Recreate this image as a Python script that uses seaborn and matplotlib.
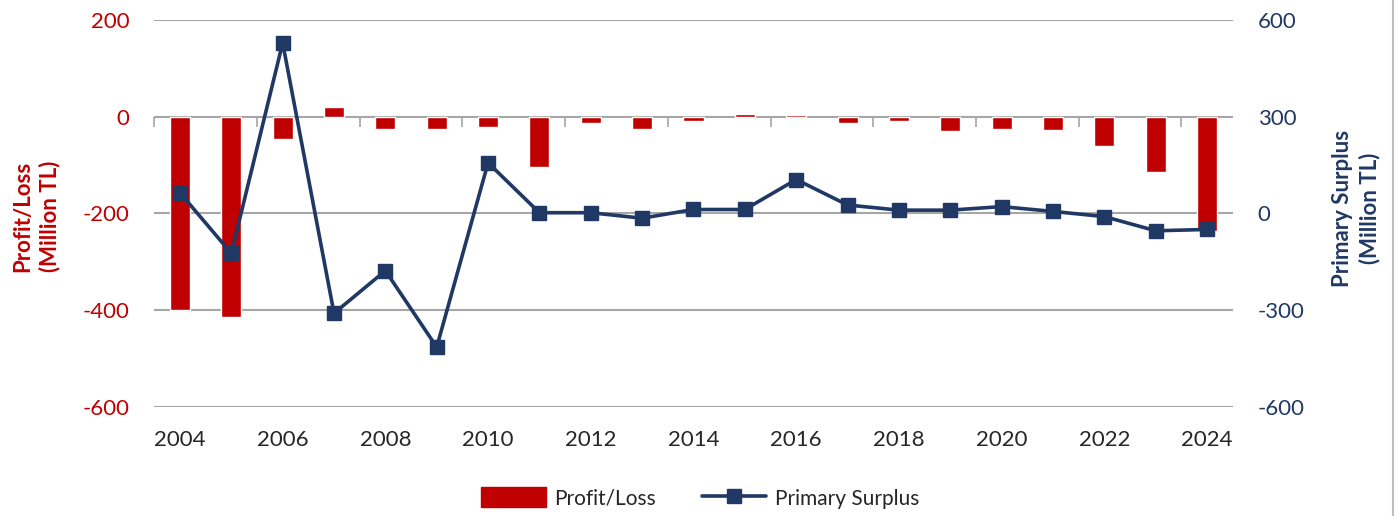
import numpy as np
import pandas as pd
import matplotlib
matplotlib.use("Agg")
import matplotlib.pyplot as plt
import seaborn as sns
from matplotlib.patches import Patch
from matplotlib.lines import Line2D

# values
years = [2004, 2005, 2006, 2007, 2008, 2009, 2010, 2011, 2012, 2013, 2014,
         2015, 2016, 2017, 2018, 2019, 2020, 2021, 2022, 2023, 2024]
profit_loss = [-399, -414, -46, 20, -25, -25, -22, -105, -14, -25, -9,
               6, 3, -14, -9, -30, -25, -28, -61, -115, -237]
primary_surplus = [64, -124, 529, -310, -178, -415, 157, 2, 2, -15, 12,
                   12, 105, 26, 10, 10, 21, 6, -10, -54, -50]
left_ticks = [200, 0, -200, -400, -600]
right_ticks = [600, 300, 0, -300, -600]

RED = "#C00000"
NAVY = "#203864"
GRID = "#A6A6A6"

sns.set_theme(style="white")
plt.rcParams['font.family'] = ['Lato', 'DejaVu Sans']
plt.rcParams['axes.unicode_minus'] = False

df = pd.DataFrame({"year": [str(y) for y in years],
                   "profit": profit_loss,
                   "surplus": primary_surplus})

fig = plt.figure(figsize=(14, 5.16), dpi=100)
ax = fig.add_axes([0.1102, 0.2118, 0.7703, 0.7494])

# bars on the left axis
sns.barplot(data=df, x="year", y="profit", color=RED, width=0.39,
            saturation=1, ax=ax, zorder=2)
ax.set_ylim(-600, 200)
ax.set_yticks(left_ticks)
ax.set_xlim(-0.5, len(years) - 0.5)
ax.grid(axis="y", color=GRID, linewidth=1.5)
ax.set_axisbelow(True)
ax.set_xlabel("")
ax.set_ylabel("")
for s in ax.spines.values():
    s.set_visible(False)
ax.tick_params(axis="y", length=0, pad=18, labelsize=16, labelcolor=RED)
ax.set_xticks(range(0, len(years), 2))
ax.set_xticklabels([str(y) for y in years[::2]])
ax.tick_params(axis="x", length=0, pad=17, labelsize=16, labelcolor="#262626")

# small category ticks on the zero line
sec = ax.secondary_xaxis(0, transform=ax.transData)
sec.set_xticks(np.arange(-0.5, len(years), 2))
sec.set_xticklabels([])
sec.tick_params(axis="x", direction="out", length=7, width=1.2, color=GRID)
sec.spines["bottom"].set_visible(False)

# line on the right axis
ax2 = ax.twinx()
ax2.plot(range(len(years)), df["surplus"], color=NAVY, linewidth=2.6,
         marker="s", markersize=9.5, zorder=3)
ax2.set_ylim(-600, 600)
ax2.set_yticks(right_ticks)
ax2.set_xlim(-0.5, len(years) - 0.5)
ax2.grid(False)
for s in ax2.spines.values():
    s.set_visible(False)
ax2.tick_params(axis="y", length=0, pad=18, labelsize=16, labelcolor=NAVY)

# axis titles
fig.text(36 / 1400, 1 - 216 / 516, "Profit/Loss\n(Million TL)", rotation=90,
         ha="center", va="center", color=RED, fontsize=16,
         fontweight="bold", multialignment="center", linespacing=1.3)
fig.text(1356 / 1400, 1 - 208 / 516, "Primary Surplus\n(Million TL)",
         rotation=90, ha="center", va="center", color=NAVY, fontsize=16,
         fontweight="bold", multialignment="center", linespacing=1.3)

handles = [Patch(facecolor=RED, edgecolor=RED),
           Line2D([0], [0], color=NAVY, linewidth=2.6, marker="s",
                  markersize=9.5)]
fig.legend(handles, ["Profit/Loss", "Primary Surplus"], loc="center",
           bbox_to_anchor=(0.5, 1 - 498 / 516), ncol=2, frameon=False,
           fontsize=15, handlelength=3.1, handleheight=1.1,
           columnspacing=2.2, handletextpad=0.4)

fig.add_artist(Line2D([1393 / 1400, 1393 / 1400], [0, 1],
                      color="#BFBFBF", linewidth=1.5))

fig.savefig("out.png", dpi=100)
